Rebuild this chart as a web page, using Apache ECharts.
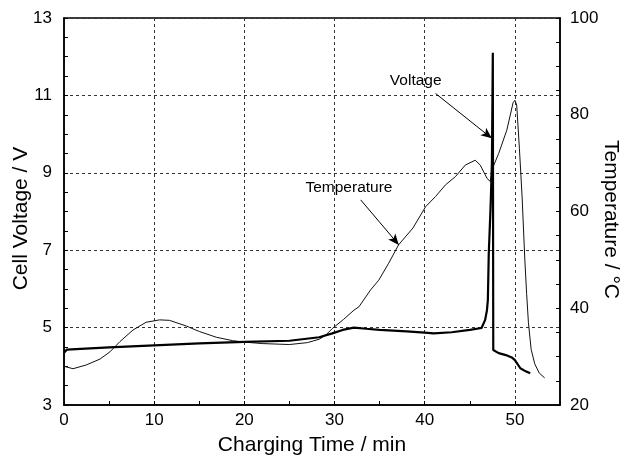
<!DOCTYPE html>
<html>
<head>
<meta charset="utf-8">
<script src="https://cdn.jsdelivr.net/npm/echarts@6/dist/echarts.min.js"></script>
<style>
  html, body { margin: 0; padding: 0; background: #fff; }
  #chart { width: 623px; height: 456px; }
</style>
</head>
<body>
<div id="chart"></div>
<script>
// charging time (min) and cell voltage (V)
var voltageTime = [0, 0.3, 5, 10, 15, 20, 25, 28.3, 29.75, 30.9, 32.15, 33.5, 35, 38, 40, 41, 43, 45, 46.3,
  46.7, 46.9, 47.0, 47.1, 47.3, 47.45, 47.55, 47.6, 48.2, 49.0, 49.65, 50.0, 50.6, 51.2, 51.7];
var voltage = [4.35, 4.43, 4.49, 4.54, 4.59, 4.63, 4.66, 4.75, 4.85, 4.94, 5.0, 4.97, 4.94, 4.9, 4.87, 4.85, 4.88, 4.94, 4.99,
  5.2, 5.45, 5.71, 6.9, 8.1, 9.25, 12.1, 4.42, 4.34, 4.29, 4.23, 4.16, 3.95, 3.87, 3.82];

// charging time (min) and temperature (°C)
var tempTime = [0, 1.0, 2.5, 4.0, 5.1, 6.2, 7.65, 9.1, 10.6, 11.7, 13.6, 15.0, 16.9, 18.7, 20, 22, 25, 27, 28.3, 29,
  29.75, 31, 32.15, 32.7, 34.0, 34.9, 36.0, 37.1, 38.7, 40.1, 41.2, 42.3, 43.4, 44.5, 45.6, 46.15, 46.9, 47.25,
  47.6, 48.2, 49.1, 49.8, 50.0, 50.2, 50.5, 50.8, 51.1, 51.3, 51.5, 51.8, 52.2, 52.7, 53.3];
var temperature = [28.0, 27.5, 28.3, 29.5, 31.0, 33.1, 35.5, 37.1, 37.6, 37.5, 36.3, 35.2, 34.0, 33.3, 33.0, 32.7, 32.5, 32.9, 33.6, 34.4,
  35.8, 37.7, 39.6, 40.3, 43.8, 45.8, 49.3, 53.1, 56.6, 61.0, 63.1, 65.5, 67.2, 69.6, 70.6, 69.6, 66.9, 66.2,
  69.3, 72.0, 76.8, 82.5, 83.0, 82.0, 73.0, 63.0, 50.0, 43.0, 37.0, 31.5, 28.5, 26.6, 25.6];

var timeTicks = { min: 0, max: 55, interval: 10 };
var voltageTicks = { min: 3, max: 13, interval: 2 };
var tempTicks = { min: 20, max: 100, interval: 20 };

function pairs(xs, ys) {
  var out = [];
  for (var i = 0; i < xs.length; i++) out.push([xs[i], ys[i]]);
  return out;
}

var chart = echarts.init(document.getElementById('chart'));
var font = 'Liberation Sans, Arial, Helvetica, sans-serif';

var option = {
  animation: false,
  backgroundColor: '#fff',
  textStyle: { fontFamily: font, color: '#000' },
  grid: { left: 64, right: 63, top: 18, bottom: 51, show: true, borderColor: '#000', borderWidth: 1.5,
    outerBoundsMode: 'none', containLabel: false },
  xAxis: {
    type: 'value',
    min: timeTicks.min, max: timeTicks.max, interval: timeTicks.interval,
    name: 'Charging Time / min',
    nameLocation: 'middle', nameGap: 30, nameMoveOverlap: false,
    nameTextStyle: { fontSize: 21, fontFamily: font, color: '#000' },
    axisLine: { show: true, lineStyle: { color: '#000', width: 1.5 } },
    axisTick: { show: true, inside: true, length: 4, lineStyle: { color: '#000' } },
    minorTick: { show: true, splitNumber: 2, length: 4, lineStyle: { color: '#000' } },
    axisLabel: { fontSize: 17, color: '#000', margin: 7, fontFamily: font,
      formatter: function (v) { return v > 50 ? '' : v; } },
    splitLine: { show: true, lineStyle: { color: '#333', type: [3, 3], width: 1 } }
  },
  yAxis: [{
    type: 'value',
    min: voltageTicks.min, max: voltageTicks.max, interval: voltageTicks.interval,
    name: 'Cell Voltage / V',
    nameLocation: 'middle', nameGap: 32, nameMoveOverlap: false,
    // shift the rotated title a little downwards, as in the original
    nameTextStyle: { fontSize: 21, fontFamily: font, color: '#000', padding: [0, 14, 0, 0] },
    axisLine: { show: true, lineStyle: { color: '#000', width: 1.5 } },
    axisTick: { show: true, inside: true, length: 4, lineStyle: { color: '#000' } },
    minorTick: { show: true, splitNumber: 4, length: 4, lineStyle: { color: '#000' } },
    axisLabel: { fontSize: 17, color: '#000', margin: 12, fontFamily: font },
    splitLine: { show: true, lineStyle: { color: '#333', type: [3, 3], width: 1 } }
  }, {
    type: 'value',
    position: 'right',
    min: tempTicks.min, max: tempTicks.max, interval: tempTicks.interval,
    name: 'Temperature / °C',
    nameLocation: 'middle', nameGap: 40, nameRotate: -90, nameMoveOverlap: false,
    nameTextStyle: { fontSize: 21, fontFamily: font, color: '#000', padding: [0, 0, 0, 16] },
    axisLine: { show: true, lineStyle: { color: '#000', width: 1.5 } },
    axisTick: { show: true, inside: true, length: 4, lineStyle: { color: '#000' } },
    minorTick: { show: true, splitNumber: 4, length: 4, lineStyle: { color: '#000' } },
    axisLabel: { fontSize: 17, color: '#000', margin: 10, fontFamily: font },
    splitLine: { show: false }
  }],
  series: [{
    name: 'Voltage',
    type: 'line',
    yAxisIndex: 0,
    data: pairs(voltageTime, voltage),
    showSymbol: false,
    lineStyle: { color: '#000', width: 2.2 },
    z: 3,
    markLine: {
      silent: true, animation: false,
      symbol: ['none', 'arrow'], symbolSize: [7, 11],
      label: { show: false },
      lineStyle: { color: '#000', width: 1, type: 'solid' },
      data: [[{ coord: [41.2, 11.05] }, { coord: [47.44, 9.89] }]]
    },
    markPoint: {
      silent: true, symbol: 'rect', symbolSize: 1, itemStyle: { color: 'transparent' },
      label: { show: true, position: 'inside', color: '#000', fontSize: 15.5, fontFamily: font },
      data: [{ coord: [39.0, 11.37], value: 'Voltage', label: { formatter: 'Voltage' } }]
    }
  }, {
    name: 'Temperature',
    type: 'line',
    yAxisIndex: 1,
    data: pairs(tempTime, temperature),
    showSymbol: false,
    lineStyle: { color: '#111', width: 1 },
    z: 2,
    markLine: {
      silent: true, animation: false,
      symbol: ['none', 'arrow'], symbolSize: [7, 11],
      label: { show: false },
      lineStyle: { color: '#000', width: 1, type: 'solid' },
      data: [[{ coord: [32.9, 62.4] }, { coord: [37.13, 53.1] }]]
    },
    markPoint: {
      silent: true, symbol: 'rect', symbolSize: 1, itemStyle: { color: 'transparent' },
      label: { show: true, position: 'inside', color: '#000', fontSize: 15.5, fontFamily: font },
      data: [{ coord: [31.6, 64.9], value: 'Temperature', label: { formatter: 'Temperature' } }]
    }
  }]
};

chart.setOption(option);
</script>
</body>
</html>
